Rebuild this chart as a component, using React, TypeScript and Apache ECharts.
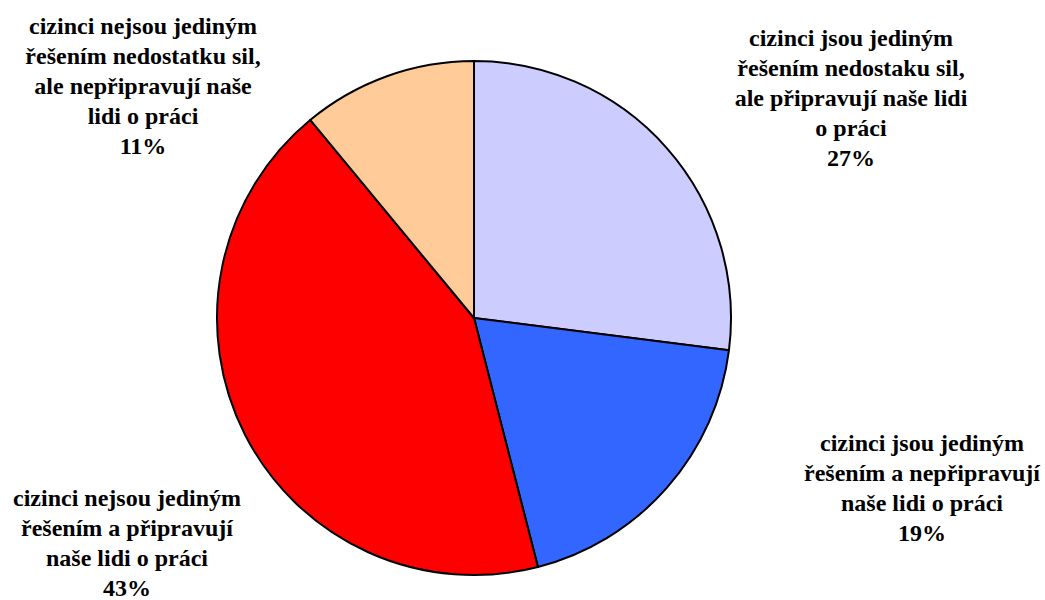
import React, { useEffect, useRef } from "react";
import * as echarts from "echarts";

const categories = [
  "cizinci jsou jediným\nřešením nedostaku sil,\nale připravují naše lidi\no práci",
  "cizinci jsou jediným\nřešením a nepřipravují\nnaše lidi o práci",
  "cizinci nejsou jediným\nřešením a připravují\nnaše lidi o práci",
  "cizinci nejsou jediným\nřešením nedostatku sil,\nale nepřipravují naše\nlidi o práci",
];
const values = [27, 19, 43, 11];
const colors = ["#CCCCFF", "#3366FF", "#FF0000", "#FFCC99"];
const labelCenters = [
  [851, 98],
  [922, 488],
  [127, 543],
  [143, 86],
];

export default function App() {
  const ref = useRef<HTMLDivElement>(null);
  useEffect(() => {
    if (!ref.current) return;
    const chart = echarts.init(ref.current, null, { renderer: "svg" });
    chart.setOption({
      animation: false,
      backgroundColor: "#ffffff",
      series: [
        {
          type: "pie",
          center: [474, 318],
          radius: 257,
          startAngle: 90,
          clockwise: true,
          data: categories.map((c, i) => ({
            name: c,
            value: values[i],
            itemStyle: { color: colors[i] },
          })),
          itemStyle: { borderColor: "#000000", borderWidth: 2 },
          emphasis: { disabled: true },
          label: {
            show: true,
            position: "outside",
            formatter: (p: any) => `${p.name}\n${p.value}%`,
            fontFamily: "Times New Roman",
            fontWeight: "bold",
            fontSize: 24,
            lineHeight: 30,
            color: "#000000",
            align: "center",
            overflow: "none",
          },
          labelLine: { show: false },
          labelLayout: (p: any) => ({
            x: labelCenters[p.dataIndex][0],
            y: labelCenters[p.dataIndex][1],
            align: "center",
            verticalAlign: "middle",
          }),
        },
      ],
    });
    return () => chart.dispose();
  }, []);
  return (
    <div
      ref={ref}
      style={{ width: 1045, height: 600, position: "absolute", left: 0, top: 0 }}
    />
  );
}
